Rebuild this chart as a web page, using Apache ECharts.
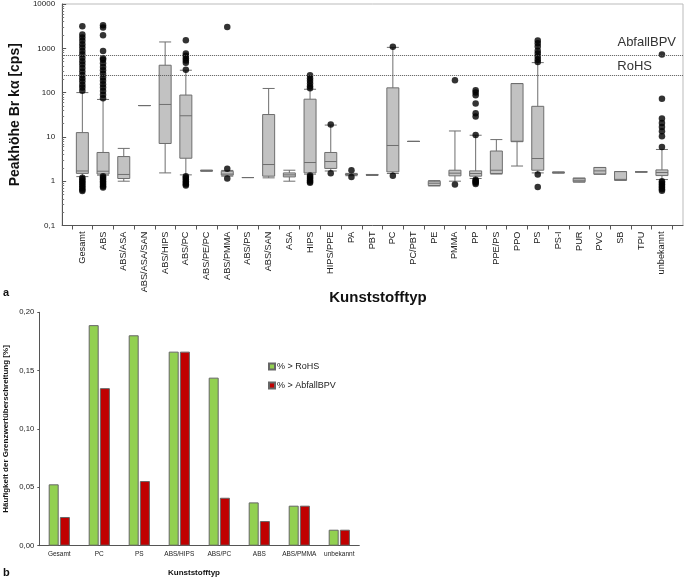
<!DOCTYPE html>
<html><head><meta charset="utf-8">
<script src="https://cdn.jsdelivr.net/npm/echarts@6/dist/echarts.min.js"></script>
<style>html,body{margin:0;padding:0;background:#fff}#c{width:685px;height:578px}</style>
</head><body><div id="c"></div>
<script>
const FONT = 'Liberation Sans, Arial, sans-serif';

// ---- Panel a: boxplot data ----
const topCategories = ['Gesamt','ABS','ABS/ASA','ABS/ASA/SAN','ABS/HIPS','ABS/PC','ABS/PE/PC','ABS/PMMA','ABS/PS','ABS/SAN','ASA','HIPS','HIPS/PPE','PA','PBT','PC','PC/PBT','PE','PMMA','PP','PPE/PS','PPO','PS','PS-I','PUR','PVC','SB','TPU','unbekannt'];
// [lower whisker, Q1, median, Q3, upper whisker]
const boxStats = [
  [1.27, 1.5, 1.7, 12.5, 100],
  [1.37, 1.45, 1.68, 4.45, 70],
  [1.0, 1.15, 1.42, 3.6, 5.5],
  [51, 51, 51, 51, 51],
  [1.54, 7.1, 54, 415, 1390],
  [1.39, 3.3, 30, 88, 320],
  [1.68, 1.7, 1.72, 1.75, 1.78],
  [1.3, 1.37, 1.45, 1.68, 1.75],
  [1.21, 1.21, 1.21, 1.21, 1.21],
  [1.19, 1.3, 2.38, 32, 124],
  [1.0, 1.25, 1.39, 1.54, 1.77],
  [1.44, 1.54, 2.64, 71, 119],
  [1.7, 1.94, 2.78, 4.45, 18.5],
  [1.33, 1.38, 1.42, 1.46, 1.5],
  [1.35, 1.37, 1.39, 1.41, 1.42],
  [1.49, 1.62, 6.4, 128, 1050],
  [7.9, 7.9, 7.9, 7.9, 7.9],
  [0.78, 0.8, 0.9, 1.0, 1.03],
  [1.0, 1.32, 1.52, 1.77, 13.6],
  [1.15, 1.3, 1.49, 1.71, 10.9],
  [1.45, 1.49, 1.77, 4.8, 8.7],
  [2.2, 7.8, 8.0, 160, 160],
  [1.54, 1.77, 3.25, 49, 475],
  [1.52, 1.54, 1.57, 1.6, 1.62],
  [0.95, 0.97, 1.05, 1.17, 1.17],
  [1.44, 1.44, 1.71, 2.04, 2.04],
  [1.05, 1.05, 1.1, 1.65, 1.65],
  [1.62, 1.62, 1.62, 1.62, 1.62],
  [1.09, 1.34, 1.57, 1.8, 5.2]
];
const outlierValues = [
  [110,130,150,180,210,250,300,360,430,510,610,730,870,1040,1240,1480,1760,2050,3150, 1.2,1.1,1.0,0.92,0.84,0.77,0.7,0.64,0.6],
  [75,90,108,130,155,185,220,265,320,380,460,550,600,870,1970,2940,3320, 1.3,1.2,1.1,1.0,0.92,0.84,0.77,0.72],
  [],
  [],
  [],
  [1520,760,680,600,530,470,330, 1.3,1.2,1.1,1.0,0.92,0.85,0.8],
  [],
  [3040,1.9,1.15],
  [],
  [],
  [],
  [125,140,160,185,210,245, 1.35,1.25,1.15,1.05,0.97,0.92],
  [19,1.52],
  [1.77,1.25],
  [],
  [1080,1.32],
  [],
  [],
  [190,0.84],
  [113,100,87,57,34,29,11, 1.08,1.02,0.97,0.92,0.87],
  [],
  [],
  [1500,1300,1100,880,760,650,560,490, 1.41,0.74],
  [],
  [],
  [],
  [],
  [],
  [720,73,26,20.7,16.8,13.4,10.4,5.95, 1.0,0.92,0.85,0.78,0.72,0.66,0.61]
];
const limitNames = ['AbfallBPV','RoHS'];
const limitValues = [700, 250];
const topYTicks = [0.1, 1, 10, 100, 1000, 10000];

// ---- Panel b: bar data ----
const barCategories = ['Gesamt','PC','PS','ABS/HIPS','ABS/PC','ABS','ABS/PMMA','unbekannt'];
const rohsValues = [0.0526, 0.189, 0.1803, 0.1663, 0.144, 0.0371, 0.0343, 0.0137];
const abfallValues = [0.0246, 0.135, 0.0554, 0.1663, 0.0411, 0.0211, 0.0343, 0.0137];
const barYTicks = [0, 0.05, 0.10, 0.15, 0.20];

const outlierPoints = [];
outlierValues.forEach((vals, i) => vals.forEach(v => outlierPoints.push([i, v])));

const minorTicks = [];
[0.1, 1, 10, 100, 1000].forEach(d => { for (let k = 2; k <= 9; k++) minorTicks.push(+(d * k).toPrecision(3)); });

const comma = v => String(v).replace('.', ',');

const chart = echarts.init(document.getElementById('c'), null, {renderer: 'canvas'});
chart.setOption({
  animation: false,
  textStyle: {fontFamily: FONT},
  title: [
    {text: 'a', left: 3, top: 287, padding: 0, textStyle: {fontSize: 11, fontWeight: 'bold', color: '#111', fontFamily: FONT}},
    {text: 'Kunststofftyp', left: 378, top: 290, padding: 0, textAlign: 'center', textStyle: {fontSize: 15, fontWeight: 'bold', color: '#111', fontFamily: FONT}},
    {text: 'b', left: 3, top: 567, padding: 0, textStyle: {fontSize: 11, fontWeight: 'bold', color: '#111', fontFamily: FONT}},
    {text: 'Kunststofftyp', left: 194, top: 569, padding: 0, textAlign: 'center', textStyle: {fontSize: 8, fontWeight: 'bold', color: '#111', fontFamily: FONT}}
  ],
  grid: [
    {left: 60, right: 2, top: 4, bottom: 352.5, show: true, borderColor: '#bbb', borderWidth: 1, backgroundColor: 'transparent'},
    {left: 72, right: 12.7, top: 4, bottom: 352.5},
    {left: 39.3, top: 312.3, width: 320, bottom: 32.3}
  ],
  xAxis: [
    {gridIndex: 0, type: 'value', min: 0, max: 1, axisLine: {show: true, lineStyle: {color: '#555'}}, axisTick: {show: false}, axisLabel: {show: false}, splitLine: {show: false}},
    {gridIndex: 1, type: 'category', data: topCategories, boundaryGap: true,
      axisLine: {show: false}, axisTick: {show: true, length: 4, lineStyle: {color: '#555'}, alignWithLabel: false},
      axisLabel: {rotate: 90, interval: 0, fontSize: 9.2, color: '#222', margin: 6, fontFamily: FONT}, splitLine: {show: false}},
    {gridIndex: 2, type: 'category', data: barCategories, axisLine: {lineStyle: {color: '#555'}}, axisTick: {show: false},
      axisLabel: {interval: 0, fontSize: 6.5, color: '#222', margin: 5, fontFamily: FONT}}
  ],
  yAxis: [
    {gridIndex: 0, type: 'log', logBase: 10, min: 0.1, max: 10000, position: 'left',
      name: 'Peakhöhe Br kα [cps]', nameLocation: 'middle', nameRotate: 90, nameGap: 32,
      nameTextStyle: {fontSize: 14, fontWeight: 'bold', color: '#111', fontFamily: FONT},
      axisLine: {show: true, lineStyle: {color: '#555'}}, axisTick: {show: true, inside: true, length: 4, lineStyle: {color: '#555'}},
      axisLabel: {customValues: topYTicks, formatter: v => comma(v), fontSize: 8, color: '#222', margin: 7, fontFamily: FONT},
      splitLine: {show: false}},
    {gridIndex: 0, type: 'log', logBase: 10, min: 0.1, max: 10000, position: 'left', offset: 0,
      axisLine: {show: false}, axisLabel: {show: false}, splitLine: {show: false},
      axisTick: {show: true, inside: true, length: 2, customValues: minorTicks, lineStyle: {color: '#777'}}},
    {gridIndex: 1, type: 'log', logBase: 10, min: 0.1, max: 10000, show: false},
    {gridIndex: 2, type: 'value', min: 0, max: 0.2, interval: 0.05,
      name: 'Häufigkeit der Grenzwertüberschreitung [%]', nameLocation: 'middle', nameRotate: 90, nameGap: 30,
      nameTextStyle: {fontSize: 8, fontWeight: 'bold', color: '#111', fontFamily: FONT},
      axisLine: {show: true, lineStyle: {color: '#555'}}, axisTick: {show: true, length: 2, lineStyle: {color: '#555'}},
      axisLabel: {formatter: v => v.toFixed(2).replace('.', ','), fontSize: 7.7, color: '#222', margin: 5, fontFamily: FONT},
      splitLine: {show: false}}
  ],
  legend: {
    data: ['% > RoHS', '% > AbfallBPV'], orient: 'vertical', left: 268, top: 362, padding: 0,
    itemWidth: 6, itemHeight: 6, itemGap: 10, icon: 'rect',
    textStyle: {fontSize: 9, color: '#222', fontFamily: FONT, padding: [0, 0, 0, -3]}
  },
  series: [
    {type: 'line', xAxisIndex: 0, yAxisIndex: 0, data: [], silent: true,
      markLine: {silent: true, symbol: 'none',
        lineStyle: {type: 'dotted', color: '#555', width: 1},
        data: [
          {yAxis: limitValues[0], name: limitNames[0], label: {show: true, formatter: limitNames[0], position: 'insideEndTop', distance: [7, 6], fontSize: 13, color: '#333', fontFamily: FONT}},
          {yAxis: limitValues[1], name: limitNames[1], label: {show: true, formatter: limitNames[1], position: 'insideEndTop', distance: [31, 2], fontSize: 13, color: '#333', fontFamily: FONT}}
        ]}},
    {type: 'boxplot', xAxisIndex: 1, yAxisIndex: 2, data: boxStats, boxWidth: [12, 12],
      itemStyle: {color: '#c2c2c2', borderColor: '#6e6e6e', borderWidth: 1}},
    {type: 'scatter', xAxisIndex: 1, yAxisIndex: 2, data: outlierPoints, symbolSize: 6.5,
      itemStyle: {color: '#000'}},
    {type: 'bar', name: '% > RoHS', xAxisIndex: 2, yAxisIndex: 3, data: rohsValues, barWidth: 10, barGap: '12%',
      itemStyle: {color: '#92d050', borderColor: '#666', borderWidth: 1}},
    {type: 'bar', name: '% > AbfallBPV', xAxisIndex: 2, yAxisIndex: 3, data: abfallValues, barWidth: 10,
      itemStyle: {color: '#c00000', borderColor: '#666', borderWidth: 1}}
  ]
});
</script></body></html>
